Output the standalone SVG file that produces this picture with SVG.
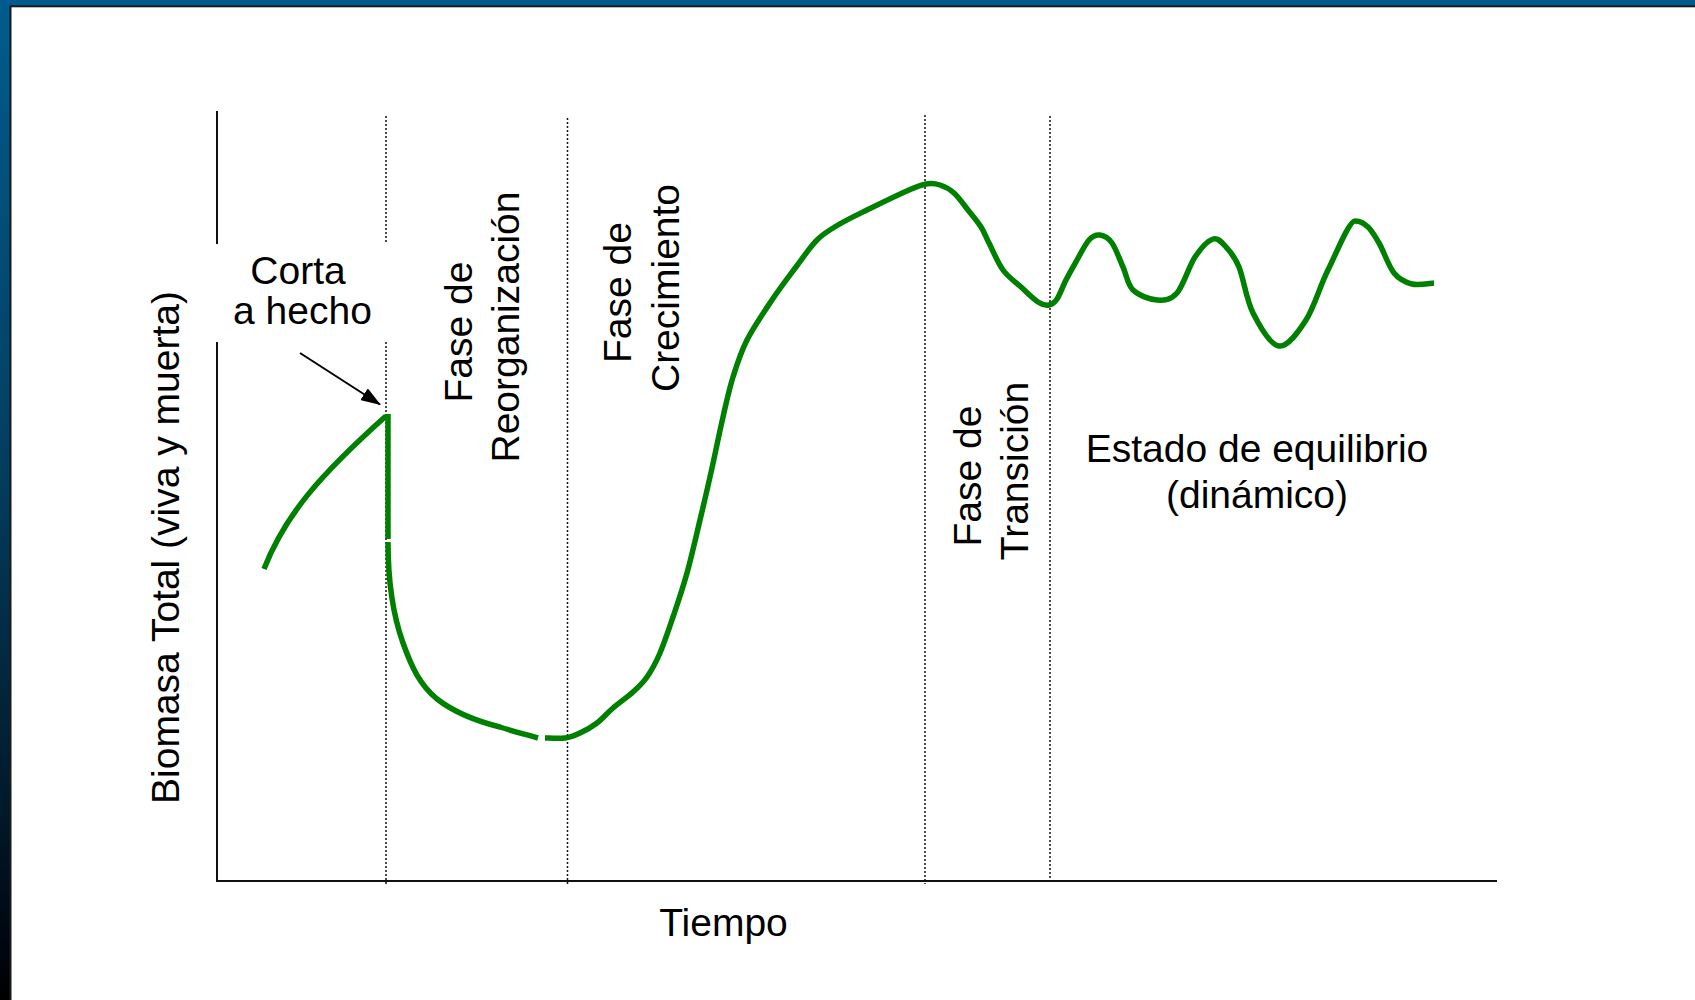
<svg xmlns="http://www.w3.org/2000/svg" width="1695" height="1000" viewBox="0 0 1695 1000">
<defs>
<linearGradient id="bg" x1="0" y1="0" x2="0" y2="1">
<stop offset="0" stop-color="#005c8e"/>
<stop offset="0.45" stop-color="#033f62"/>
<stop offset="0.8" stop-color="#011a2b"/>
<stop offset="0.95" stop-color="#000510"/>
<stop offset="1" stop-color="#000"/>
</linearGradient>
<marker id="ah" viewBox="0 0 20 14" refX="19" refY="7" markerWidth="20" markerHeight="14" markerUnits="userSpaceOnUse" orient="auto">
<path d="M0,0 L20,7 L0,14 z" fill="#000"/>
</marker>
<style>
.t{font-family:"Liberation Sans",Arial,sans-serif;font-size:39px;fill:#000;text-anchor:middle}
.ax{stroke:#111;stroke-width:2;fill:none}
.dot{stroke:#111;stroke-width:1.5;stroke-dasharray:2 2;fill:none}
.g{stroke:#008000;stroke-width:5.5;fill:none;stroke-linejoin:round}
</style>
</defs>
<rect width="1695" height="1000" fill="url(#bg)"/>
<rect x="10.5" y="6.3" width="1690" height="1000" fill="#fff" stroke="#1a1a1a" stroke-width="2"/>

<g id="axes">
<path class="ax" d="M217,111 V244 M217,342 V882 M216,881 H1497"/>
</g>
<g id="phase-lines">
<path class="dot" d="M386,116 V244 M386,342 V886"/>
<path class="dot" d="M567.5,118 V886"/>
<path class="dot" d="M925,115 V884"/>
<path class="dot" d="M1050,116 V884"/>
</g>

<g id="connectors">
<line x1="300" y1="353" x2="380" y2="404.5" stroke="#000" stroke-width="2" marker-end="url(#ah)"/>
</g>

<g id="curve">
<path class="g" d="M264,569 C285,515 320,475 386,416"/>
<path class="g" d="M388,414 V539"/>
<path class="g" d="M388,542 C388,585 393,615 403,643 C412,668 420,685 437,699 C455,713 480,722 500,727 C515,732 528,735 538,738"/>
<path class="g" d="M545,738 C548.3,738 559.2,738.8 565,738 C570.8,737.2 574.7,735.5 580,733 C585.3,730.5 591.5,727.2 597,723 C602.5,718.8 607,713.2 613,708 C619,702.8 627.3,697.2 633,692 C638.7,686.8 642.5,683.5 647,677 C651.5,670.5 655.7,663 660,653 C664.3,643 668.5,630.3 673,617 C677.5,603.7 682.5,589.2 687,573 C691.5,556.8 695.8,537.5 700,520 C704.2,502.5 708.2,485.2 712,468 C715.8,450.8 719.5,432.2 723,417 C726.5,401.8 729,389.8 733,377 C737,364.2 740.5,352.8 747,340 C753.5,327.2 763.8,312.2 772,300 C780.2,287.8 788.5,277 796,267 C803.5,257 810,247 817,240 C824,233 829.7,230 838,225 C846.3,220 855.2,215.8 867,210 C878.8,204.2 899.2,194.3 909,190 C918.8,185.7 920.8,184.8 926,184 C931.2,183.2 935.3,183.5 940,185 C944.7,186.5 949.3,188.8 954,193 C958.7,197.2 963.5,204.3 968,210 C972.5,215.7 977.5,221.5 981,227 C984.5,232.5 985.3,235.8 989,243 C992.7,250.2 997.7,262.7 1003,270 C1008.3,277.3 1015.2,281.7 1021,287 C1026.8,292.3 1033.3,299 1038,302 C1042.7,305 1045.8,305.5 1049,305 C1052.2,304.5 1054.2,303.2 1057,299 C1059.8,294.8 1062.7,286.5 1066,280 C1069.3,273.5 1073.2,266.7 1077,260 C1080.8,253.3 1085.2,244.2 1089,240 C1092.8,235.8 1096.2,234.5 1100,235 C1103.8,235.5 1108.2,237.7 1112,243 C1115.8,248.3 1119.5,259.2 1123,267 C1126.5,274.8 1127.3,284.5 1133,290 C1138.7,295.5 1149.7,299.5 1157,300 C1164.3,300.5 1170.7,300.2 1177,293 C1183.3,285.8 1189,266 1195,257 C1201,248 1207.8,240.7 1213,239 C1218.2,237.3 1221.7,242.3 1226,247 C1230.3,251.7 1234.5,256 1239,267 C1243.5,278 1246.3,299.8 1253,313 C1259.7,326.2 1270.2,344.8 1279,346 C1287.8,347.2 1297.8,332.7 1306,320 C1314.2,307.3 1319.8,286.3 1328,270 C1336.2,253.7 1349,221 1355,221 C1361,221 1364,223.3 1368,227 C1372,230.7 1374.5,235.5 1379,243 C1383.5,250.5 1388.5,266.2 1394,273 C1399.5,279.8 1405.3,282.3 1412,284 C1418.7,285.7 1430.3,283.2 1434,283"/>
</g>

<g id="label-y">
<text class="t" transform="translate(178.5,547.5) rotate(-90)">Biomasa Total (viva y muerta)</text>
</g>
<g id="label-x">
<text class="t" x="723.5" y="936">Tiempo</text>
</g>
<g id="label-corta">
<text class="t" x="298" y="284">Corta</text>
<text class="t" x="302.5" y="324">a hecho</text>
</g>
<g id="label-reorganizacion">
<text class="t" transform="translate(472,332) rotate(-90)">Fase de</text>
<text class="t" transform="translate(519,327) rotate(-90)">Reorganización</text>
</g>
<g id="label-crecimiento">
<text class="t" transform="translate(631,292.5) rotate(-90)">Fase de</text>
<text class="t" transform="translate(679,288) rotate(-90)">Crecimiento</text>
</g>
<g id="label-transicion">
<text class="t" transform="translate(981,476) rotate(-90)">Fase de</text>
<text class="t" transform="translate(1028,471) rotate(-90)">Transición</text>
</g>
<g id="label-equilibrio">
<text class="t" x="1257" y="462">Estado de equilibrio</text>
<text class="t" x="1257" y="508">(dinámico)</text>
</g>
</svg>
